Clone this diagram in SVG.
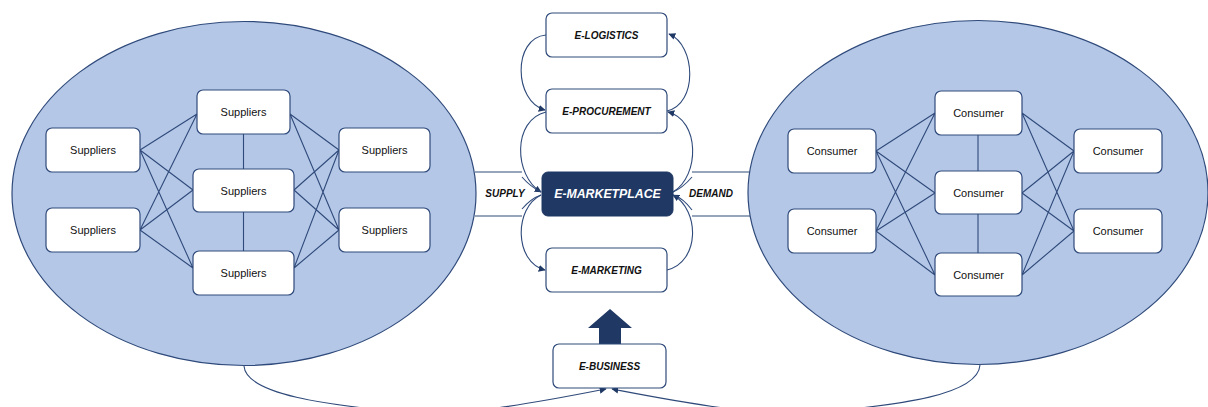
<svg xmlns="http://www.w3.org/2000/svg" width="1208" height="407" viewBox="0 0 1208 407">
<defs>
<style>
.cl{fill:#b4c7e7;stroke:#2f4a7a;stroke-width:1.2}
.bx{fill:#fff;stroke:#2f4a7a;stroke-width:1.2}
.ln{fill:none;stroke:#2f4a7a;stroke-width:1.1}
.t{font-family:"Liberation Sans",Arial,sans-serif;font-size:11px;fill:#111;text-anchor:middle;dominant-baseline:central}
.e{font-family:"Liberation Sans",Arial,sans-serif;font-size:10px;font-weight:bold;font-style:italic;fill:#111;text-anchor:middle;dominant-baseline:central}
.m{font-family:"Liberation Sans",Arial,sans-serif;font-size:12.3px;font-weight:bold;font-style:italic;fill:#fff;text-anchor:middle;dominant-baseline:central}
</style>
<marker id="ah" viewBox="0 0 10 10" refX="9" refY="5" markerWidth="7" markerHeight="7" orient="auto" markerUnits="userSpaceOnUse">
<path d="M0,0 L10,5 L0,10 z" fill="#1f3864"/>
</marker>
</defs>

<g id="suppliers-cluster">
<ellipse class="cl" cx="244" cy="193.5" rx="232" ry="172"/>
</g>
<g id="consumer-cluster">
<ellipse class="cl" cx="978" cy="192.5" rx="230" ry="172"/>
</g>

<g id="connectors">
<!-- supplier mesh -->
<path class="ln" d="M140,150 L197,114 M140,150 L193,190 M140,150 L193,268 M140,230 L197,114 M140,230 L193,190 M140,230 L193,268"/>
<path class="ln" d="M290,114 L339,150 M290,114 L339,230 M294,190 L339,150 M294,190 L339,230 M294,268 L339,150 M294,268 L339,230"/>
<path class="ln" d="M243.5,134 L243.5,169 M243.5,212 L243.5,251"/>
<!-- consumer mesh -->
<path class="ln" d="M876,151 L935,113 M876,151 L935,193 M876,151 L935,275 M876,231 L935,113 M876,231 L935,193 M876,231 L935,275"/>
<path class="ln" d="M1022,113 L1074,151 M1022,113 L1074,231 M1022,193 L1074,151 M1022,193 L1074,231 M1022,275 L1074,151 M1022,275 L1074,231"/>
<path class="ln" d="M978,135 L978,171 M978,214 L978,253"/>
<!-- supply / demand bands -->
<path class="ln" d="M475,172 L522,172 M475,216 L522,216"/>
<path class="ln" d="M692,172 L750,172 M692,216 L750,216"/>
<!-- central cycle -->
<path class="ln" marker-end="url(#ah)" d="M546,35 C512,38 514,102 545,110"/>
<path class="ln" marker-end="url(#ah)" d="M667,111 C698,104 696,45 669,34"/>
<path class="ln" marker-end="url(#ah)" d="M546,112 C512,120 514,176 541,192"/>
<path class="ln" d="M522,177 C528,184 535,189 541,192"/>
<path class="ln" marker-end="url(#ah)" d="M541,195 C514,208 514,262 545,270"/>
<path class="ln" d="M522,209 C528,202 535,197 541,195"/>
<path class="ln" marker-end="url(#ah)" d="M667,270 C700,262 700,210 673,195"/>
<path class="ln" d="M692,210 C686,202 680,197 673,195"/>
<path class="ln" marker-end="url(#ah)" d="M673,192 C700,176 700,120 668,112"/>
<path class="ln" d="M692,177 C686,184 680,189 673,192"/>
<!-- bottom curves into E-BUSINESS -->
<path class="ln" marker-end="url(#ah)" d="M244,366 C246,395 330,405 400,412 C460,418 550,400 606,389"/>
<path class="ln" marker-end="url(#ah)" d="M980,365 C978,395 900,405 820,412 C760,418 670,400 612,389"/>
<!-- big arrow -->
<path d="M599,344 L599,328 L588,328 L610,309 L632,328 L621,328 L621,344 z" fill="#1f3864"/>
</g>

<g id="s-l1"><rect class="bx" x="46" y="128" width="94" height="44" rx="6"/><text class="t" x="93" y="150">Suppliers</text></g>
<g id="s-l2"><rect class="bx" x="46" y="208" width="94" height="44" rx="6"/><text class="t" x="93" y="230">Suppliers</text></g>
<g id="s-m1"><rect class="bx" x="197" y="90" width="93" height="44" rx="6"/><text class="t" x="243.5" y="112">Suppliers</text></g>
<g id="s-m2"><rect class="bx" x="193" y="169" width="101" height="43" rx="6"/><text class="t" x="243.5" y="190.5">Suppliers</text></g>
<g id="s-m3"><rect class="bx" x="193" y="251" width="101" height="44" rx="6"/><text class="t" x="243.5" y="273">Suppliers</text></g>
<g id="s-r1"><rect class="bx" x="339" y="128" width="91" height="44" rx="6"/><text class="t" x="384.5" y="150">Suppliers</text></g>
<g id="s-r2"><rect class="bx" x="339" y="208" width="91" height="44" rx="6"/><text class="t" x="384.5" y="230">Suppliers</text></g>

<g id="c-l1"><rect class="bx" x="788" y="129" width="88" height="44" rx="6"/><text class="t" x="832" y="151">Consumer</text></g>
<g id="c-l2"><rect class="bx" x="788" y="209" width="88" height="44" rx="6"/><text class="t" x="832" y="231">Consumer</text></g>
<g id="c-m1"><rect class="bx" x="935" y="91" width="87" height="44" rx="6"/><text class="t" x="978.5" y="113">Consumer</text></g>
<g id="c-m2"><rect class="bx" x="935" y="171" width="87" height="43" rx="6"/><text class="t" x="978.5" y="192.5">Consumer</text></g>
<g id="c-m3"><rect class="bx" x="935" y="253" width="87" height="43" rx="6"/><text class="t" x="978.5" y="274.5">Consumer</text></g>
<g id="c-r1"><rect class="bx" x="1074" y="129" width="88" height="44" rx="6"/><text class="t" x="1118" y="151">Consumer</text></g>
<g id="c-r2"><rect class="bx" x="1074" y="209" width="88" height="44" rx="6"/><text class="t" x="1118" y="231">Consumer</text></g>

<g id="e-logistics"><rect class="bx" x="546" y="13" width="121" height="44" rx="6"/><text class="e" x="606.5" y="35">E-LOGISTICS</text></g>
<g id="e-procurement"><rect class="bx" x="546" y="89" width="121" height="44" rx="6"/><text class="e" x="606.5" y="111">E-PROCUREMENT</text></g>
<g id="e-marketplace"><rect x="542" y="172" width="131" height="44" rx="6" fill="#1f3864" stroke="#1f3864"/><text class="m" x="607.5" y="194">E-MARKETPLACE</text></g>
<g id="e-marketing"><rect class="bx" x="546" y="248" width="121" height="44" rx="6"/><text class="e" x="606.5" y="270">E-MARKETING</text></g>
<g id="e-business"><rect class="bx" x="553" y="344" width="113" height="44" rx="6"/><text class="e" x="609.5" y="366">E-BUSINESS</text></g>

<g id="labels">
<text class="e" x="505" y="193">SUPPLY</text>
<text class="e" x="711" y="193">DEMAND</text>
</g>
</svg>
